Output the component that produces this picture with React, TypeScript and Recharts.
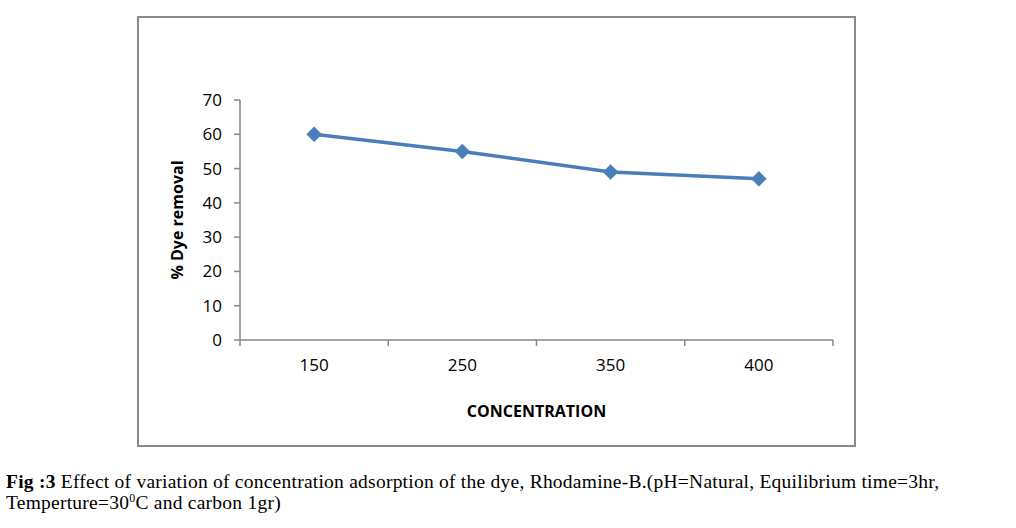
import React from "react";
import { LineChart, Line, XAxis, YAxis, Label } from "recharts";

const categories = ["150", "250", "350", "400"];
const dyeRemoval = [60, 55, 49, 47];
const yTicks = [0, 10, 20, 30, 40, 50, 60, 70];
const boundaryTicks = [0, 1, 2, 3, 4];

const data = categories.map((c, i) => ({ conc: c, removal: dyeRemoval[i], idx: i + 0.5 }));

const AXIS = "#868686";
const BLUE = "#4A7EBB";
const FONT = "'Open Sans', 'Liberation Sans', sans-serif";

const Diamond = (props: any) => {
  const { cx, cy, index } = props;
  if (cx == null || cy == null) return null;
  const r = 7.5;
  return (
    <polygon
      key={`d-${index}`}
      points={`${cx},${cy - r} ${cx + r},${cy} ${cx},${cy + r} ${cx - r},${cy}`}
      fill={BLUE}
      stroke={BLUE}
      strokeWidth={0.5}
    />
  );
};

const YLabel = (props: any) => {
  const vb = props.viewBox || {};
  const x = vb.x + 38;
  const y = vb.y + vb.height / 2;
  return (
    <text
      x={x}
      y={y}
      transform={`rotate(-90, ${x}, ${y})`}
      textAnchor="middle"
      dominantBaseline="central"
      fontFamily={FONT}
      fontWeight="bold"
      fontSize={16}
      fill="#000"
    >
      % Dye removal
    </text>
  );
};

export default function App() {
  return (
    <div style={{ position: "absolute", left: 0, top: 0, width: 1016, height: 528, background: "#fff" }}>
      <div
        style={{
          position: "absolute",
          left: 137,
          top: 16,
          width: 719,
          height: 431,
          boxSizing: "border-box",
          border: "2px solid #8a8a8a",
        }}
      >
        <LineChart
          width={715}
          height={427}
          data={data}
          margin={{ top: 82, right: 21, left: 0, bottom: 20 }}
        >
          <XAxis
            xAxisId="axisA"
            type="number"
            dataKey="idx"
            domain={[0, 4]}
            ticks={boundaryTicks}
            interval={0}
            height={1}
            stroke={AXIS}
            strokeWidth={1.5}
            tickSize={6}
            tickFormatter={() => ""}
            tick={{ fontSize: 1, fill: "none" }}
            allowDataOverflow
          />
          <XAxis
            xAxisId="axisB"
            dataKey="conc"
            type="category"
            scale="band"
            height={84}
            axisLine={false}
            tickLine={false}
            tickSize={0}
            tickMargin={18}
            interval={0}
            tick={{ fill: "#000", fontSize: 17, fontFamily: FONT }}
          >
            <Label
              value="CONCENTRATION"
              position="insideBottom"
              offset={8}
              style={{ fill: "#000", fontSize: 16, fontWeight: "bold", fontFamily: FONT }}
            />
          </XAxis>
          <YAxis
            width={101}
            domain={[0, 70]}
            ticks={yTicks}
            interval={0}
            stroke={AXIS}
            strokeWidth={1.5}
            tickSize={6}
            tickMargin={12}
            tick={{ fill: "#000", fontSize: 17, fontFamily: FONT }}
          >
            <Label content={<YLabel />} />
          </YAxis>
          <Line
            xAxisId="axisB"
            dataKey="removal"
            stroke={BLUE}
            strokeWidth={3.5}
            dot={<Diamond />}
            activeDot={false}
            isAnimationActive={false}
          />
        </LineChart>
      </div>
      <div
        style={{
          position: "absolute",
          left: 6,
          top: 471,
          fontFamily: "'Liberation Serif', 'Times New Roman', serif",
          fontSize: 19.5,
          letterSpacing: "0.24px",
          lineHeight: "21px",
          color: "#000",
          whiteSpace: "nowrap",
        }}
      >
        <div>
          <b>Fig :3</b> Effect of variation of concentration adsorption of the dye, Rhodamine-B.(pH=Natural, Equilibrium time=3hr,
        </div>
        <div>
          Temperture=30<span style={{ fontSize: 12, position: "relative", top: -7 }}>0</span>C and carbon 1gr)
        </div>
      </div>
    </div>
  );
}
